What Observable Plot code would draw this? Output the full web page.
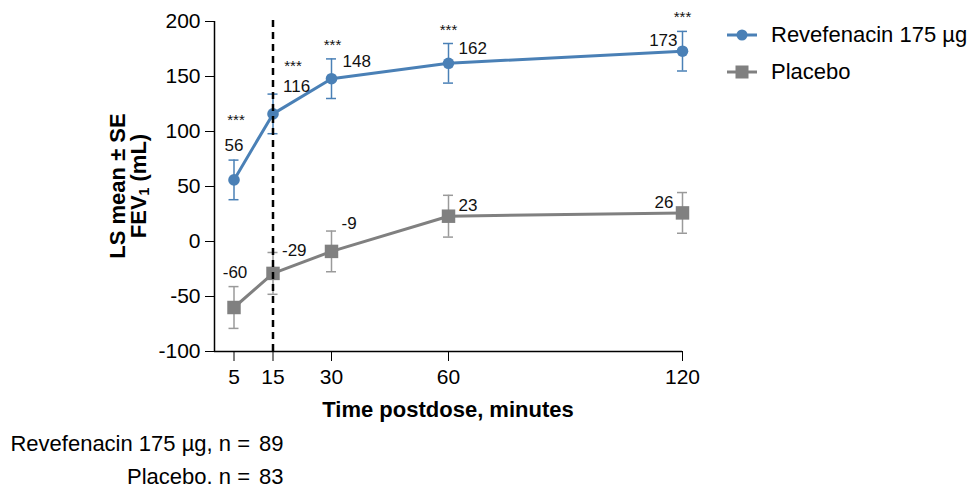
<!DOCTYPE html>
<html><head><meta charset="utf-8">
<script src="https://cdn.jsdelivr.net/npm/d3@7"></script>
<script src="https://cdn.jsdelivr.net/npm/@observablehq/plot@0.6"></script>
<style>
body{margin:0;background:#fff;font-family:"Liberation Sans",Arial,sans-serif;}
#wrap{position:relative;width:969px;height:488px;overflow:hidden;}
.abs{position:absolute;white-space:nowrap;color:#000;line-height:1;}
</style></head><body><div id="wrap"></div>
<script>
// ---- data ----
const times = [5, 15, 30, 60, 120];
const revMean = [56, 116, 148, 162, 173];
const revSE = [18, 18, 18, 18, 18];
const plaMean = [-60, -29, -9, 23, 26];
const plaSE = [19, 19, 18.5, 19, 18.5];
const sigLabels = ["***", "***", "***", "***", "***"];
const yTicks = [-100, -50, 0, 50, 100, 150, 200];
const xTicks = [5, 15, 30, 60, 120];
const seriesNames = ["Revefenacin 175 µg", "Placebo"];
const nLabels = ["Revefenacin 175 µg, n =", "Placebo. n ="];
const nValues = [89, 83];
const doseTime = 15;

const BLUE = "#4a80b6", GRAY = "#808080", GRAYBAR = "#9a9a9a";

const rev = times.map((t, i) => ({t, m: revMean[i], se: revSE[i], sig: sigLabels[i], i}));
const pla = times.map((t, i) => ({t, m: plaMean[i], se: plaSE[i], i}));

function errMarks(data, color) {
  return [
    Plot.ruleX(data, {x: "t", y1: d => d.m - d.se, y2: d => d.m + d.se, stroke: color, strokeWidth: 1.5}),
    Plot.ruleY(data, {y: d => d.m + d.se, x1: "t", x2: "t", insetLeft: -5, insetRight: -5, stroke: color, strokeWidth: 1.5}),
    Plot.ruleY(data, {y: d => d.m - d.se, x1: "t", x2: "t", insetLeft: -5, insetRight: -5, stroke: color, strokeWidth: 1.5})
  ];
}
function lab(data, idx, textFn, anchor, dx, dy, size) {
  return Plot.text(data.filter(d => d.i === idx), {x: "t", y: "m", text: textFn, textAnchor: anchor, dx, dy, fontSize: size, fill: "#111"});
}
const val = d => String(d.m);
const star = d => d.sig;

const revPos = [["middle", 0, -34], ["start", 10, -27], ["start", 11, -17], ["start", 10, -15], ["end", -5, -11]];
const starPos = [["middle", 2, -60], ["middle", 20, -48], ["middle", 1, -34], ["middle", 0, -33], ["middle", 0, -34]];
const plaPos = [["middle", 1, -35], ["start", 9, -23], ["start", 10, -28], ["start", 10, -11], ["end", -9, -10]];

const chart = Plot.plot({
  width: 969, height: 488,
  marginLeft: 214, marginRight: 287, marginTop: 21, marginBottom: 137,
  style: {fontFamily: "'Liberation Sans', Arial, sans-serif", fontSize: "21px", background: "#fff", color: "#000"},
  x: {domain: [0, 120]},
  y: {domain: [-100, 200]},
  marks: [
    Plot.axisY({ticks: yTicks, tickSize: 9, tickPadding: 5, label: null, fontSize: 21, tickFormat: d => String(d)}),
    Plot.axisX({ticks: xTicks, tickSize: 10, tickPadding: 8, label: null, fontSize: 21, tickFormat: d => String(d)}),
    Plot.ruleX([0], {y1: -100, y2: 200, stroke: "#000", strokeWidth: 1.5}),
    Plot.ruleY([-100], {x1: 0, x2: 120, stroke: "#000", strokeWidth: 1.5}),
    ...errMarks(pla, GRAYBAR),
    Plot.line(pla, {x: "t", y: "m", stroke: GRAY, strokeWidth: 3}),
    Plot.dot(pla, {x: "t", y: "m", symbol: "square", r: 7.6, fill: GRAY, stroke: "none"}),
    ...errMarks(rev, BLUE),
    Plot.line(rev, {x: "t", y: "m", stroke: BLUE, strokeWidth: 3}),
    Plot.dot(rev, {x: "t", y: "m", r: 5.8, fill: BLUE, stroke: "none"}),
    Plot.ruleX([doseTime], {y1: -100, y2: 200, insetBottom: 6, stroke: "#000", strokeWidth: 2.5, strokeDasharray: "7,5"}),
    ...revPos.map((p, i) => lab(rev, i, val, p[0], p[1], p[2], 17)),
    ...starPos.map((p, i) => lab(rev, i, star, p[0], p[1], p[2], 15)),
    ...plaPos.map((p, i) => lab(pla, i, val, p[0], p[1], p[2], 17))
  ]
});

const wrap = document.getElementById("wrap");
wrap.appendChild(chart);

function addDiv(html, css) {
  const d = document.createElement("div");
  d.className = "abs";
  d.innerHTML = html;
  Object.assign(d.style, css);
  wrap.appendChild(d);
  return d;
}
// x-axis title
addDiv("Time postdose, minutes", {left: "214px", width: "468px", top: "399px", textAlign: "center", fontWeight: "bold", fontSize: "22px"});
// y-axis title (rotated)
addDiv("LS mean ± SE<br>FEV<sub style='font-size:14px;vertical-align:-3px;line-height:0'>1</sub> (mL)", {
  left: "128px", top: "186px", transform: "translate(-50%,-50%) rotate(-90deg)", textAlign: "center",
  fontWeight: "bold", fontSize: "22px", lineHeight: "21px"
});
// legend
const legY = [35, 72];
const legColors = [BLUE, GRAY];
seriesNames.forEach((name, k) => {
  const marker = k === 0
    ? `<circle cx="15" cy="10" r="5.5" fill="${legColors[k]}"/>`
    : `<rect x="8.5" y="3.5" width="13" height="13" fill="${legColors[k]}"/>`;
  addDiv(`<svg width="32" height="20"><line x1="0" x2="30" y1="10" y2="10" stroke="${legColors[k]}" stroke-width="3"/>${marker}</svg>`,
    {left: "727px", top: (legY[k] - 10) + "px"});
  addDiv(name, {left: "771px", top: (legY[k] - 11) + "px", fontSize: "22px"});
});
// n labels
const nY = [444, 477];
nLabels.forEach((t, k) => {
  addDiv(t, {right: (969 - 250) + "px", top: (nY[k] - 11) + "px", fontSize: "22px", textAlign: "right"});
  addDiv(String(nValues[k]), {left: "259px", top: (nY[k] - 11) + "px", fontSize: "22px"});
});
</script></body></html>
